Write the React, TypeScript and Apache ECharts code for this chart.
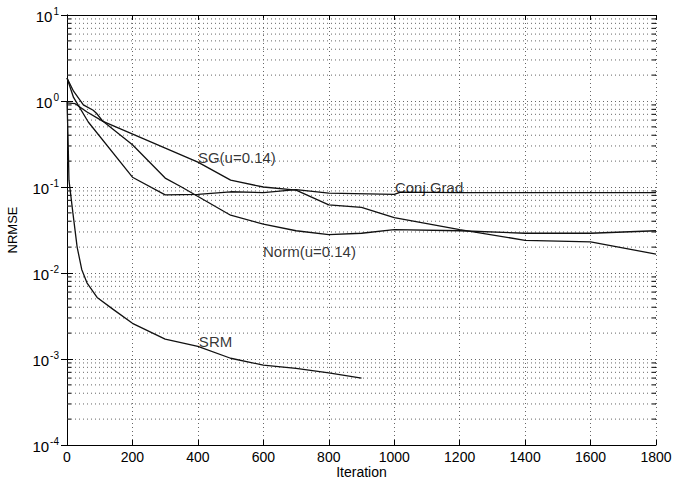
import React, { useEffect, useRef } from "react";
import * as echarts from "echarts";

// ---- data ----
const sgIter = [0, 20, 50, 80, 90, 110, 400, 500, 600, 700, 800, 900, 1000, 1200, 1400, 1600, 1800];
const sgVals = [1.85, 1.3, 0.9, 0.78, 0.72, 0.58, 0.195, 0.12, 0.1, 0.092, 0.062, 0.058, 0.044, 0.032, 0.024, 0.023, 0.0166];

const normIter = [0, 25, 60, 110, 200, 300, 350, 500, 600, 700, 800, 900, 1000, 1200, 1400, 1600, 1800];
const normVals = [0.95, 0.93, 0.75, 0.58, 0.31, 0.127, 0.1, 0.047, 0.037, 0.031, 0.028, 0.029, 0.032, 0.031, 0.029, 0.029, 0.031];

const cgIter = [0, 20, 65, 200, 300, 400, 500, 600, 700, 800, 1000, 1020, 1200, 1400, 1600, 1800];
const cgVals = [1.85, 1.1, 0.57, 0.13, 0.081, 0.082, 0.088, 0.086, 0.093, 0.085, 0.082, 0.087, 0.086, 0.086, 0.086, 0.086];

const srmIter = [0, 3, 6, 18, 31, 45, 61, 92, 140, 200, 300, 400, 500, 600, 700, 800, 900];
const srmVals = [1.0, 0.4, 0.12, 0.05, 0.02, 0.011, 0.0077, 0.0052, 0.0038, 0.0026, 0.0017, 0.0014, 0.00102, 0.00085, 0.00078, 0.00069, 0.0006];

const annNames = ["SG(u=0.14)", "Conj Grad", "Norm(u=0.14)", "SRM"];
const annIter = [400, 1002, 599, 403];
const annVals = [0.223, 0.1, 0.018, 0.0016];

const xTicks = [0, 200, 400, 600, 800, 1000, 1200, 1400, 1600, 1800];
const decades = [-4, -3, -2, -1, 0];
const minorMult = [2, 3, 4, 5, 6, 7, 8, 9];

const FONT = "'Liberation Sans', Arial, Helvetica, sans-serif";

function zip(a: number[], b: number[]) {
  return a.map((x, i) => [x, b[i]]);
}

export default function App() {
  const ref = useRef<HTMLDivElement>(null);
  useEffect(() => {
    if (!ref.current) return;
    const chart = echarts.init(ref.current, null, { renderer: "svg" });
    const minors: number[][] = [];
    decades.forEach((d) => minorMult.forEach((m) => minors.push([0, m * Math.pow(10, d)])));
    const xMin = xTicks[0];
    const xMax = xTicks[xTicks.length - 1];
    const lineStyle = { color: "#111", width: 1.3 };
    const gridDots = { color: "#666", width: 1, type: [1, 3] as any };

    chart.setOption({
      animation: false,
      textStyle: { fontFamily: FONT },
      grid: { left: 67, right: 31, top: 15, bottom: 36, containLabel: false, outerBoundsMode: "none" },
      xAxis: [
        {
          type: "value",
          min: xMin,
          max: xMax,
          interval: 200,
          name: "Iteration",
          nameLocation: "middle",
          nameGap: 20,
          nameMoveOverlap: false,
          nameTextStyle: { fontSize: 14, lineHeight: 14, color: "#000", fontFamily: FONT },
          axisLine: { show: true, lineStyle: { color: "#000", width: 1 } },
          axisTick: { show: true, inside: true, length: 5, lineStyle: { color: "#000" } },
          axisLabel: { fontSize: 14, color: "#000", margin: 5, fontFamily: FONT, formatter: (v: number) => String(v) },
          splitLine: { show: true, lineStyle: gridDots },
        },
        {
          type: "value",
          position: "top",
          min: xMin,
          max: xMax,
          interval: 200,
          axisLine: { show: true, lineStyle: { color: "#000", width: 1 } },
          axisTick: { show: true, inside: true, length: 5, lineStyle: { color: "#000" } },
          axisLabel: { show: false },
          splitLine: { show: false },
        },
      ],
      yAxis: [
        {
          type: "log",
          logBase: 10,
          min: 1e-4,
          max: 10,
          splitNumber: 5,
          name: "NRMSE",
          nameLocation: "middle",
          nameGap: 48,
          nameRotate: 90,
          nameTextStyle: { fontSize: 13, color: "#000", fontFamily: FONT },
          axisLine: { show: true, lineStyle: { color: "#000", width: 1 } },
          axisTick: { show: true, inside: true, length: 6, lineStyle: { color: "#000" } },
          axisLabel: {
            color: "#000",
            margin: 8,
            formatter: (v: number) => {
              const e = Math.round(Math.log10(v));
              return `{b|10}{s|${e}}`;
            },
            rich: {
              b: { fontSize: 15, fontFamily: FONT, color: "#000", verticalAlign: "bottom", lineHeight: 18 },
              s: { fontSize: 10, fontFamily: FONT, color: "#000", verticalAlign: "top", lineHeight: 18, padding: [0, 0, 6, 1] },
            },
          },
          splitLine: { show: true, lineStyle: gridDots },
        },
        {
          type: "log",
          logBase: 10,
          position: "right",
          min: 1e-4,
          max: 10,
          splitNumber: 5,
          axisLine: { show: true, lineStyle: { color: "#000", width: 1 } },
          axisTick: { show: true, inside: true, length: 6, lineStyle: { color: "#000" } },
          axisLabel: { show: false },
          splitLine: { show: false },
        },
      ],
      series: [
        {
          type: "custom",
          name: "minorGrid",
          xAxisIndex: 0,
          yAxisIndex: 0,
          silent: true,
          z: 1,
          data: minors,
          renderItem: (params: any, api: any) => {
            const v = api.value(1);
            const p = api.coord([xMin, v]);
            const r = api.coord([xMax, v]);
            return {
              type: "group",
              children: [
                {
                  type: "line",
                  shape: { x1: p[0], y1: p[1], x2: r[0], y2: r[1] },
                  style: { stroke: "#666", lineWidth: 1, lineDash: [1, 3] },
                },
                {
                  type: "line",
                  shape: { x1: p[0], y1: p[1], x2: p[0] + 4, y2: p[1] },
                  style: { stroke: "#000", lineWidth: 1 },
                },
                {
                  type: "line",
                  shape: { x1: r[0] - 4, y1: r[1], x2: r[0], y2: r[1] },
                  style: { stroke: "#000", lineWidth: 1 },
                },
              ],
            };
          },
        },
        { type: "line", name: "SG(u=0.14)", data: zip(sgIter, sgVals), showSymbol: false, lineStyle, z: 3 },
        { type: "line", name: "Norm(u=0.14)", data: zip(normIter, normVals), showSymbol: false, lineStyle, z: 3 },
        { type: "line", name: "Conj Grad", data: zip(cgIter, cgVals), showSymbol: false, lineStyle, z: 3 },
        { type: "line", name: "SRM", data: zip(srmIter, srmVals), showSymbol: false, lineStyle, z: 3 },
        {
          type: "scatter",
          name: "labels",
          symbolSize: 0,
          silent: true,
          z: 4,
          data: annNames.map((n, i) => ({ name: n, value: [annIter[i], annVals[i]] })),
          label: {
            show: true,
            position: "right",
            distance: 0,
            formatter: "{b}",
            fontSize: 15,
            color: "#000",
            fontFamily: FONT,
          },
        },
      ],
    });
    return () => chart.dispose();
  }, []);
  return (
    <div
      ref={ref}
      style={{ position: "absolute", left: 0, top: 0, width: 687, height: 481, background: "#fff" }}
    />
  );
}
